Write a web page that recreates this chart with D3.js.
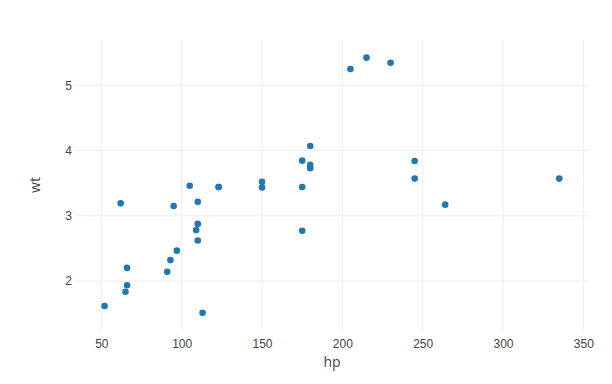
<!DOCTYPE html>
<html>
<head>
<meta charset="utf-8">
<script src="https://cdn.jsdelivr.net/npm/d3@7"></script>
<style>
  body { margin: 0; background: #fff; }
  svg { font-family: "Open Sans", verdana, arial, sans-serif; }
</style>
</head>
<body>
<svg id="chart" width="612" height="384"></svg>
<script>
// mtcars: horsepower vs weight
const hp = [110, 110, 93, 110, 175, 105, 245, 62, 95, 123, 123, 180, 180, 180, 205, 215,
  230, 66, 52, 65, 97, 150, 150, 245, 175, 66, 91, 113, 264, 175, 335, 109];
const wt = [2.62, 2.875, 2.32, 3.215, 3.44, 3.46, 3.57, 3.19, 3.15, 3.44, 3.44, 4.07, 3.73,
  3.78, 5.25, 5.424, 5.345, 2.2, 1.615, 1.835, 2.465, 3.52, 3.435, 3.84, 3.845, 1.935,
  2.14, 1.513, 3.17, 2.77, 3.57, 2.78];
const xTicks = [50, 100, 150, 200, 250, 300, 350];
const yTicks = [2, 3, 4, 5];

const points = hp.map((h, i) => ({ hp: h, wt: wt[i] }));

const margin = { top: 40, right: 23, bottom: 54, left: 75 };
const width = 612, height = 384;

const svg = d3.select("#chart");

const x = d3.scaleLinear()
  .domain([33.6, 353.5])
  .range([margin.left, width - margin.right]);

const y = d3.scaleLinear()
  .domain([1.248, 5.695])
  .range([height - margin.bottom, margin.top]);

// grid
svg.append("g")
  .selectAll("line")
  .data(xTicks)
  .join("line")
  .attr("x1", d => x(d)).attr("x2", d => x(d))
  .attr("y1", margin.top).attr("y2", height - margin.bottom)
  .attr("stroke", "#eee").attr("stroke-width", 1);

svg.append("g")
  .selectAll("line")
  .data(yTicks)
  .join("line")
  .attr("x1", margin.left).attr("x2", width - margin.right)
  .attr("y1", d => y(d)).attr("y2", d => y(d))
  .attr("stroke", "#eee").attr("stroke-width", 1);

// axes (labels only)
const xAxis = svg.append("g")
  .attr("transform", `translate(0,${height - margin.bottom})`)
  .call(d3.axisBottom(x).tickValues(xTicks).tickFormat(d3.format("d")).tickSize(0).tickPadding(9));
xAxis.select(".domain").remove();
xAxis.selectAll("text").attr("fill", "#444").style("font-size", "12px");

const yAxis = svg.append("g")
  .attr("transform", `translate(${margin.left},0)`)
  .call(d3.axisLeft(y).tickValues(yTicks).tickFormat(d3.format("d")).tickSize(0).tickPadding(3));
yAxis.select(".domain").remove();
yAxis.selectAll("text").attr("fill", "#444").style("font-size", "12px");

// axis titles
svg.append("text")
  .attr("x", (margin.left + width - margin.right) / 2)
  .attr("y", 367)
  .attr("text-anchor", "middle")
  .attr("fill", "#444")
  .style("font-size", "14px")
  .text("hp");

svg.append("text")
  .attr("transform", `translate(40,${(margin.top + height - margin.bottom) / 2}) rotate(-90)`)
  .attr("text-anchor", "middle")
  .attr("fill", "#444")
  .style("font-size", "14px")
  .text("wt");

// markers
svg.append("g")
  .selectAll("circle")
  .data(points)
  .join("circle")
  .attr("cx", d => x(d.hp))
  .attr("cy", d => y(d.wt))
  .attr("r", 3.3)
  .attr("fill", "#1f77b4");
</script>
</body>
</html>
